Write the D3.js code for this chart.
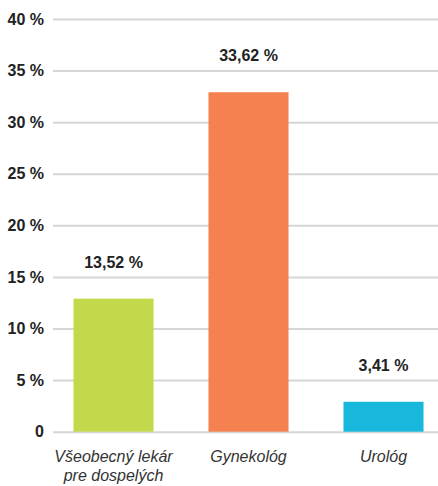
<!DOCTYPE html>
<html>
<head>
<meta charset="utf-8">
<script src="https://cdn.jsdelivr.net/npm/d3@7"></script>
<style>
  html, body { margin: 0; padding: 0; background: #fff; }
  svg { display: block; font-family: "Liberation Sans", Arial, sans-serif; }
</style>
</head>
<body>
<div id="chart"></div>
<script>
// categories (label lines), bar heights as drawn, printed value labels
const categories = ["vseobecny", "gynekolog", "urolog"];
const categoryLines = [["Všeobecný lekár", "pre dospelých"], ["Gynekológ"], ["Urológ"]];
const barValues = [12.9, 32.9, 2.9];
const labelValues = [13.52, 33.62, 3.41];
const barColors = ["#c3d84a", "#f4814f", "#17b8dc"];
const tickValues = [0, 5, 10, 15, 20, 25, 30, 35, 40];

const width = 438, height = 486;

let svg = d3.select("#chart")
  .append("svg")
  .attr("width", width)
  .attr("height", height);

let y = d3.scaleLinear()
  .domain([0, 40])
  .range([431.7, 19]);

let x = d3.scaleBand()
  .domain(categories)
  .range([46, 451])
  .paddingInner(0.407)
  .paddingOuter(0.2035);

// gridlines + tick labels
let yAxis = d3.axisLeft(y)
  .tickValues(tickValues)
  .tickSize(-(width - 53))
  .tickPadding(9)
  .tickFormat(d => d === 0 ? "0" : d + " %");

let axisG = svg.append("g")
  .attr("transform", "translate(53,0)")
  .call(yAxis);

axisG.select(".domain").remove();
axisG.selectAll(".tick line")
  .attr("stroke", "#d6d6d6")
  .attr("stroke-width", 2);
axisG.selectAll(".tick text")
  .attr("fill", "#222")
  .style("font-size", "16px")
  .style("font-weight", "bold")
  .style("font-family", "'Liberation Sans', Arial, sans-serif");

// bars
svg.append("g")
  .selectAll("rect")
  .data(categories)
  .join("rect")
    .attr("x", d => x(d))
    .attr("width", x.bandwidth())
    .attr("y", (d, i) => y(barValues[i]))
    .attr("height", (d, i) => y(0) - y(barValues[i]))
    .attr("fill", (d, i) => barColors[i]);

// value labels
const fmt = v => v.toFixed(2).replace(".", ",") + " %";
svg.append("g")
  .selectAll("text")
  .data(categories)
  .join("text")
    .attr("x", d => x(d) + x.bandwidth() / 2)
    .attr("y", (d, i) => y(barValues[i]) - 31)
    .attr("text-anchor", "middle")
    .attr("fill", "#222")
    .style("font-size", "16px")
    .style("font-weight", "bold")
    .text((d, i) => fmt(labelValues[i]));

// category labels
let catG = svg.append("g")
  .selectAll("text")
  .data(categories)
  .join("text")
    .attr("x", d => x(d) + x.bandwidth() / 2)
    .attr("y", 462)
    .attr("text-anchor", "middle")
    .attr("fill", "#333")
    .style("font-size", "16px")
    .style("font-style", "italic");

catG.each(function(d, i) {
  let el = d3.select(this);
  let cx = x(d) + x.bandwidth() / 2;
  categoryLines[i].forEach((line, k) => {
    el.append("tspan")
      .attr("x", cx)
      .attr("dy", k === 0 ? 0 : 19)
      .text(line);
  });
});
</script>
</body>
</html>
